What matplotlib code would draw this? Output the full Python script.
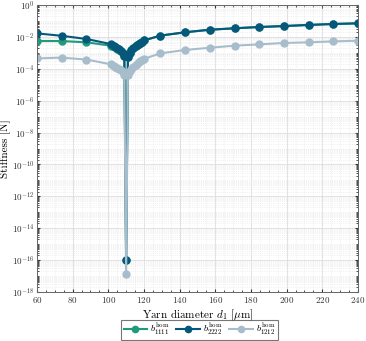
import numpy as np
import matplotlib
matplotlib.use("Agg")
import matplotlib.pyplot as plt
from matplotlib.ticker import LogLocator, MultipleLocator, NullFormatter

plt.rcParams['font.family'] = ['cmr10', 'DejaVu Serif']
plt.rcParams['mathtext.fontset'] = 'cm'
plt.rcParams['axes.formatter.use_mathtext'] = True
plt.rcParams['axes.unicode_minus'] = False

# yarn diameter d1 [um]
d1 = [60, 73.8, 87.7, 101.5, 103, 104, 105, 106, 107, 108, 109, 110,
      111, 112, 113, 114, 115.4, 116, 117, 118, 119, 120,
      129.2, 143.1, 156.9, 170.8, 184.6, 198.5, 212.3, 226.2, 240]

# log10 of stiffness [N]
log_b1111 = [-2.26, -2.26, -2.34, -2.55, -2.6, -2.66, -2.73, -2.8, -2.9, -3.02, -3.22, -16.0,
             -3.28, -3.0, -2.85, -2.72, -2.6, -2.52, -2.45, -2.38, -2.3, -2.22,
             -1.92, -1.71, -1.55, -1.46, -1.38, -1.32, -1.25, -1.19, -1.15]
log_b2222 = [-1.78, -1.93, -2.13, -2.45, -2.55, -2.62, -2.7, -2.78, -2.88, -3.0, -3.2, -16.0,
             -3.28, -3.0, -2.85, -2.72, -2.6, -2.52, -2.45, -2.38, -2.3, -2.22,
             -1.92, -1.71, -1.55, -1.46, -1.38, -1.32, -1.25, -1.19, -1.15]
log_b1212 = [-3.35, -3.3, -3.42, -3.72, -3.8, -3.87, -3.93, -4.0, -4.1, -4.2, -4.38, -16.9,
             -4.39, -4.15, -4.0, -3.88, -3.75, -3.68, -3.6, -3.52, -3.45, -3.38,
             -3.03, -2.82, -2.68, -2.55, -2.47, -2.38, -2.34, -2.28, -2.24]

series = [
    (log_b1111, '#1f9a7c', r'$b^{\mathrm{hom}}_{1111}$'),
    (log_b2222, '#05587a', r'$b^{\mathrm{hom}}_{2222}$'),
    (log_b1212, '#a8bdcb', r'$b^{\mathrm{hom}}_{1212}$'),
]

fig = plt.figure(figsize=(3.66, 3.41), dpi=100)
ax = fig.add_axes([0.101, 0.1437, 0.877, 0.8416])

for vals, col, lab in series:
    ax.plot(d1, 10.0 ** np.array(vals), '-o', color=col, lw=1.5, ms=5,
            label=lab)

ax.set_yscale('log')
ax.set_xlim(60, 240)
ax.set_ylim(1e-18, 1)
ax.set_xticks(np.arange(60, 241, 20))
ax.set_yticks(10.0 ** np.arange(-18, 1, 2))
ax.yaxis.set_minor_locator(LogLocator(base=10, subs=np.arange(1, 10), numticks=100))
ax.yaxis.set_minor_formatter(NullFormatter())
ax.xaxis.set_minor_locator(MultipleLocator(5))

ax.grid(True, which='major', color='#dddddd', lw=0.6)
ax.grid(True, which='minor', color='#e6e6e6', lw=0.5, ls=':')
ax.set_axisbelow(True)

ax.tick_params(which='both', direction='in', top=True, right=True,
               labelsize=6.5, colors='#333333', length=2.5, pad=2)
ax.tick_params(which='minor', length=1.5)
for s in ax.spines.values():
    s.set_color('#666666')
    s.set_linewidth(0.7)

ax.set_xlabel(r'Yarn diameter $d_1$ [$\mu$m]', fontsize=8, va='center')
ax.xaxis.set_label_coords(0.5, -0.08)
ax.set_ylabel('Stiffness [N]', fontsize=8)
ax.yaxis.set_label_coords(-0.08, 0.5)

leg = fig.legend(handles=ax.get_lines(), loc='center',
                 bbox_to_anchor=(0.545, 0.033), ncol=3,
                 fontsize=7, frameon=True, fancybox=False, handlelength=2.4,
                 columnspacing=0.7, handletextpad=0.3, borderpad=0.25,
                 markerscale=0.9)
leg.get_frame().set_edgecolor('#555555')
leg.get_frame().set_linewidth(0.8)

fig.savefig('out.png', dpi=100)
